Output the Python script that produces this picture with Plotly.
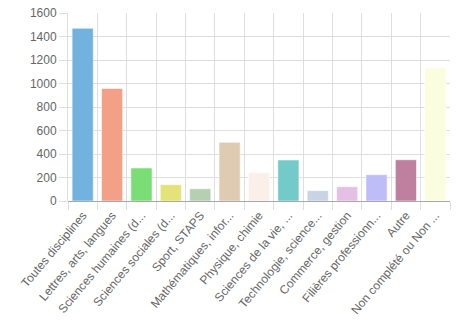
import plotly.graph_objects as go

categories = [
    "Toutes disciplines",
    "Lettres, arts, langues",
    "Sciences humaines (d...",
    "Sciences sociales (d...",
    "Sport, STAPS",
    "Mathématiques, infor...",
    "Physique, chimie",
    "Sciences de la vie, ...",
    "Technologie, science...",
    "Commerce, gestion",
    "Filières professionn...",
    "Autre",
    "Non complété ou Non ...",
]
values = [1470, 958, 281, 139, 104, 500, 241, 349, 88, 122, 224, 351, 1134]
colors = [
    "#71b2de", "#f2a186", "#7bdd75", "#e4e37a", "#b5cfb1", "#dfcbb1",
    "#fbefea", "#73cac8", "#c7d4e4", "#e5c0e5", "#bebdf7", "#bf7f9f",
    "#fbfddf",
]
y_ticks = [0, 200, 400, 600, 800, 1000, 1200, 1400, 1600]

fig = go.Figure(
    go.Bar(
        x=categories,
        y=values,
        marker=dict(color=colors, line=dict(color="rgba(255,255,255,0.55)", width=1)),
        width=0.72,
        hoverinfo="x+y",
    )
)

grid = "#dedede"
fig.update_layout(
    width=463,
    height=329,
    margin=dict(l=68, r=13, t=13, b=128),
    paper_bgcolor="white",
    plot_bgcolor="white",
    showlegend=False,
    font=dict(family="Liberation Sans, Arial, sans-serif", size=12, color="#666666"),
    bargap=0.28,
)
fig.update_xaxes(
    type="category",
    automargin=False,
    tickangle=-50,
    tickson="boundaries",
    ticks="outside",
    ticklen=8,
    tickcolor=grid,
    ticklabelstandoff=4,
    showgrid=True,
    gridcolor=grid,
    gridwidth=1,
    showline=False,
    zeroline=False,
    tickfont=dict(size=12, color="#666666"),
)
fig.update_yaxes(
    automargin=False,
    range=[0, 1600],
    tickvals=y_ticks,
    ticks="outside",
    ticklen=8,
    tickcolor=grid,
    showgrid=True,
    gridcolor=grid,
    gridwidth=1,
    zeroline=True,
    zerolinecolor="#a8a8a8",
    zerolinewidth=1,
    showline=True,
    linecolor=grid,
    tickfont=dict(size=12, color="#666666"),
)
fig.write_html("out.html")
